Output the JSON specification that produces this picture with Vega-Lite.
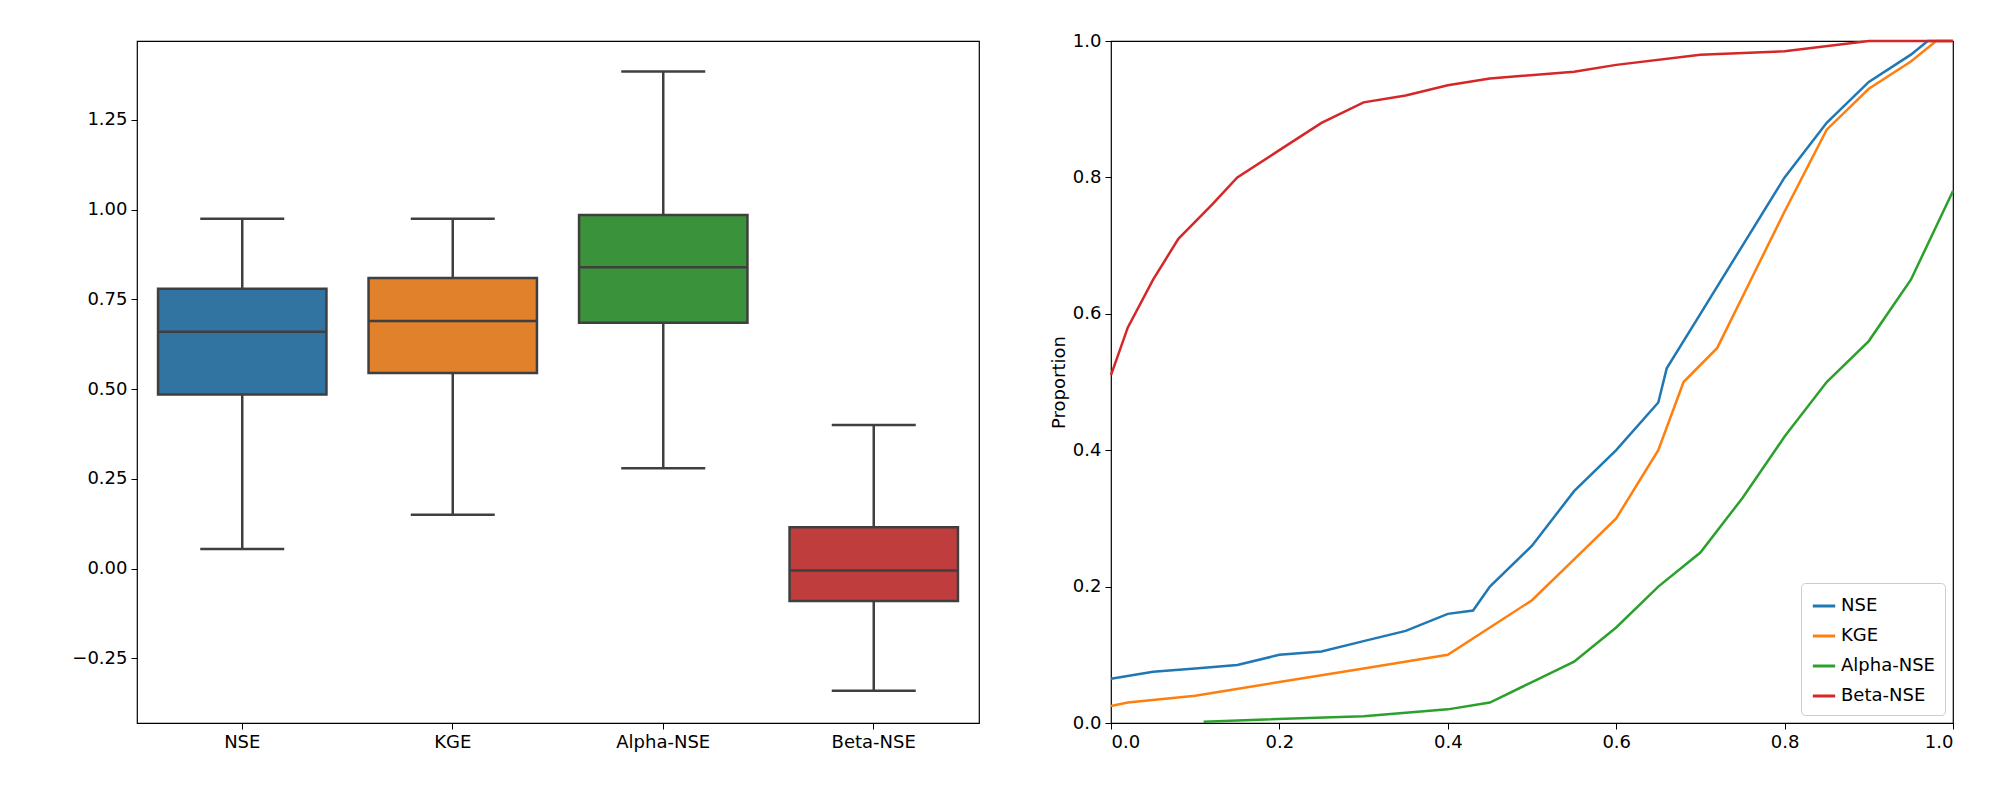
{
  "$schema": "https://vega.github.io/schema/vega-lite/v6.json",
  "background": "white",
  "padding": {"left": 71, "top": 31, "right": 20, "bottom": 10},
  "spacing": 69,
  "resolve": {"scale": {"color": "independent"}},
  "config": {
    "font": "DejaVu Sans",
    "view": {"stroke": "black", "strokeWidth": 1.2},
    "axis": {"labelFontSize": 18, "titleFontSize": 18, "titleFontWeight": "normal", "labelColor": "black", "titleColor": "black", "tickColor": "black", "domain": false, "grid": false, "tickSize": 6, "labelPadding": 4}
  },
  "datasets": {
    "box": [
      {"metric": "NSE", "lo": 0.055, "q1": 0.485, "med": 0.66, "q3": 0.78, "hi": 0.975},
      {"metric": "KGE", "lo": 0.15, "q1": 0.545, "med": 0.69, "q3": 0.81, "hi": 0.975},
      {"metric": "Alpha-NSE", "lo": 0.28, "q1": 0.685, "med": 0.84, "q3": 0.985, "hi": 1.385},
      {"metric": "Beta-NSE", "lo": -0.34, "q1": -0.09, "med": -0.005, "q3": 0.115, "hi": 0.40}
    ],
    "cdf": [
      {"metric": "NSE", "x": 0, "p": 0.065}, {"metric": "NSE", "x": 0.05, "p": 0.075}, {"metric": "NSE", "x": 0.1, "p": 0.08}, {"metric": "NSE", "x": 0.15, "p": 0.085}, {"metric": "NSE", "x": 0.2, "p": 0.1}, {"metric": "NSE", "x": 0.25, "p": 0.105}, {"metric": "NSE", "x": 0.3, "p": 0.12}, {"metric": "NSE", "x": 0.35, "p": 0.135}, {"metric": "NSE", "x": 0.4, "p": 0.16}, {"metric": "NSE", "x": 0.43, "p": 0.165}, {"metric": "NSE", "x": 0.45, "p": 0.2}, {"metric": "NSE", "x": 0.5, "p": 0.26}, {"metric": "NSE", "x": 0.55, "p": 0.34}, {"metric": "NSE", "x": 0.6, "p": 0.4}, {"metric": "NSE", "x": 0.65, "p": 0.47}, {"metric": "NSE", "x": 0.66, "p": 0.52}, {"metric": "NSE", "x": 0.7, "p": 0.6}, {"metric": "NSE", "x": 0.75, "p": 0.7}, {"metric": "NSE", "x": 0.8, "p": 0.8}, {"metric": "NSE", "x": 0.85, "p": 0.88}, {"metric": "NSE", "x": 0.9, "p": 0.94}, {"metric": "NSE", "x": 0.95, "p": 0.98}, {"metric": "NSE", "x": 0.97, "p": 1.0}, {"metric": "NSE", "x": 1, "p": 1.0},
      {"metric": "KGE", "x": 0, "p": 0.025}, {"metric": "KGE", "x": 0.02, "p": 0.03}, {"metric": "KGE", "x": 0.1, "p": 0.04}, {"metric": "KGE", "x": 0.2, "p": 0.06}, {"metric": "KGE", "x": 0.3, "p": 0.08}, {"metric": "KGE", "x": 0.4, "p": 0.1}, {"metric": "KGE", "x": 0.45, "p": 0.14}, {"metric": "KGE", "x": 0.5, "p": 0.18}, {"metric": "KGE", "x": 0.55, "p": 0.24}, {"metric": "KGE", "x": 0.6, "p": 0.3}, {"metric": "KGE", "x": 0.65, "p": 0.4}, {"metric": "KGE", "x": 0.68, "p": 0.5}, {"metric": "KGE", "x": 0.72, "p": 0.55}, {"metric": "KGE", "x": 0.76, "p": 0.65}, {"metric": "KGE", "x": 0.8, "p": 0.75}, {"metric": "KGE", "x": 0.85, "p": 0.87}, {"metric": "KGE", "x": 0.9, "p": 0.93}, {"metric": "KGE", "x": 0.95, "p": 0.97}, {"metric": "KGE", "x": 0.98, "p": 1.0}, {"metric": "KGE", "x": 1, "p": 1.0},
      {"metric": "Alpha-NSE", "x": 0.11, "p": 0.002}, {"metric": "Alpha-NSE", "x": 0.3, "p": 0.01}, {"metric": "Alpha-NSE", "x": 0.4, "p": 0.02}, {"metric": "Alpha-NSE", "x": 0.45, "p": 0.03}, {"metric": "Alpha-NSE", "x": 0.5, "p": 0.06}, {"metric": "Alpha-NSE", "x": 0.55, "p": 0.09}, {"metric": "Alpha-NSE", "x": 0.6, "p": 0.14}, {"metric": "Alpha-NSE", "x": 0.65, "p": 0.2}, {"metric": "Alpha-NSE", "x": 0.7, "p": 0.25}, {"metric": "Alpha-NSE", "x": 0.75, "p": 0.33}, {"metric": "Alpha-NSE", "x": 0.8, "p": 0.42}, {"metric": "Alpha-NSE", "x": 0.85, "p": 0.5}, {"metric": "Alpha-NSE", "x": 0.9, "p": 0.56}, {"metric": "Alpha-NSE", "x": 0.95, "p": 0.65}, {"metric": "Alpha-NSE", "x": 1.0, "p": 0.78},
      {"metric": "Beta-NSE", "x": 0, "p": 0.51}, {"metric": "Beta-NSE", "x": 0.02, "p": 0.58}, {"metric": "Beta-NSE", "x": 0.05, "p": 0.65}, {"metric": "Beta-NSE", "x": 0.08, "p": 0.71}, {"metric": "Beta-NSE", "x": 0.12, "p": 0.76}, {"metric": "Beta-NSE", "x": 0.15, "p": 0.8}, {"metric": "Beta-NSE", "x": 0.2, "p": 0.84}, {"metric": "Beta-NSE", "x": 0.25, "p": 0.88}, {"metric": "Beta-NSE", "x": 0.3, "p": 0.91}, {"metric": "Beta-NSE", "x": 0.35, "p": 0.92}, {"metric": "Beta-NSE", "x": 0.4, "p": 0.935}, {"metric": "Beta-NSE", "x": 0.45, "p": 0.945}, {"metric": "Beta-NSE", "x": 0.55, "p": 0.955}, {"metric": "Beta-NSE", "x": 0.6, "p": 0.965}, {"metric": "Beta-NSE", "x": 0.7, "p": 0.98}, {"metric": "Beta-NSE", "x": 0.8, "p": 0.985}, {"metric": "Beta-NSE", "x": 0.9, "p": 1.0}, {"metric": "Beta-NSE", "x": 1, "p": 1.0}
    ]
  },
  "hconcat": [
    {
      "width": 842,
      "height": 682,
      "data": {"name": "box"},
      "encoding": {
        "x": {"field": "metric", "type": "nominal", "sort": ["NSE", "KGE", "Alpha-NSE", "Beta-NSE"], "title": null, "scale": {"paddingInner": 0.2, "paddingOuter": 0.1}, "axis": {"labelAngle": 0}}
      },
      "layer": [
        {
          "mark": {"type": "rule", "color": "#3f3f3f", "strokeWidth": 2.5},
          "encoding": {
            "y": {"field": "lo", "type": "quantitative", "title": null, "scale": {"domain": [-0.43, 1.47], "nice": false}, "axis": {"values": [-0.25, 0, 0.25, 0.5, 0.75, 1.0, 1.25], "format": ".2f"}},
            "y2": {"field": "hi"}
          }
        },
        {
          "mark": {"type": "bar", "stroke": "#3f3f3f", "strokeWidth": 2.5},
          "encoding": {
            "y": {"field": "q1", "type": "quantitative"},
            "y2": {"field": "q3"},
            "color": {"field": "metric", "type": "nominal", "legend": null, "scale": {"domain": ["NSE", "KGE", "Alpha-NSE", "Beta-NSE"], "range": ["#3274a1", "#e1812c", "#3a923a", "#c03d3e"]}}
          }
        },
        {
          "mark": {"type": "tick", "color": "#3f3f3f", "thickness": 2.5, "size": 168, "opacity": 1},
          "encoding": {"y": {"field": "med", "type": "quantitative"}}
        },
        {
          "mark": {"type": "tick", "color": "#3f3f3f", "thickness": 2.5, "size": 84, "opacity": 1},
          "encoding": {"y": {"field": "lo", "type": "quantitative"}}
        },
        {
          "mark": {"type": "tick", "color": "#3f3f3f", "thickness": 2.5, "size": 84, "opacity": 1},
          "encoding": {"y": {"field": "hi", "type": "quantitative"}}
        }
      ]
    },
    {
      "width": 842,
      "height": 682,
      "data": {"name": "cdf"},
      "mark": {"type": "line", "interpolate": "linear", "strokeWidth": 2.5},
      "encoding": {
        "x": {"field": "x", "type": "quantitative", "title": null, "scale": {"domain": [0, 1], "nice": false}, "axis": {"values": [0, 0.2, 0.4, 0.6, 0.8, 1.0], "format": ".1f"}},
        "y": {"field": "p", "type": "quantitative", "title": "Proportion", "scale": {"domain": [0, 1], "nice": false}, "axis": {"values": [0, 0.2, 0.4, 0.6, 0.8, 1.0], "format": ".1f"}},
        "color": {"field": "metric", "type": "nominal", "title": null, "scale": {"domain": ["NSE", "KGE", "Alpha-NSE", "Beta-NSE"], "range": ["#1f77b4", "#ff7f0e", "#2ca02c", "#d62728"]},
          "legend": {"orient": "bottom-right", "symbolType": "stroke", "symbolStrokeWidth": 3, "symbolSize": 500, "labelFontSize": 18, "labelColor": "black", "rowPadding": 8, "padding": 10, "strokeColor": "#cccccc", "fillColor": "white", "cornerRadius": 4, "offset": 8}}
      }
    }
  ]
}
